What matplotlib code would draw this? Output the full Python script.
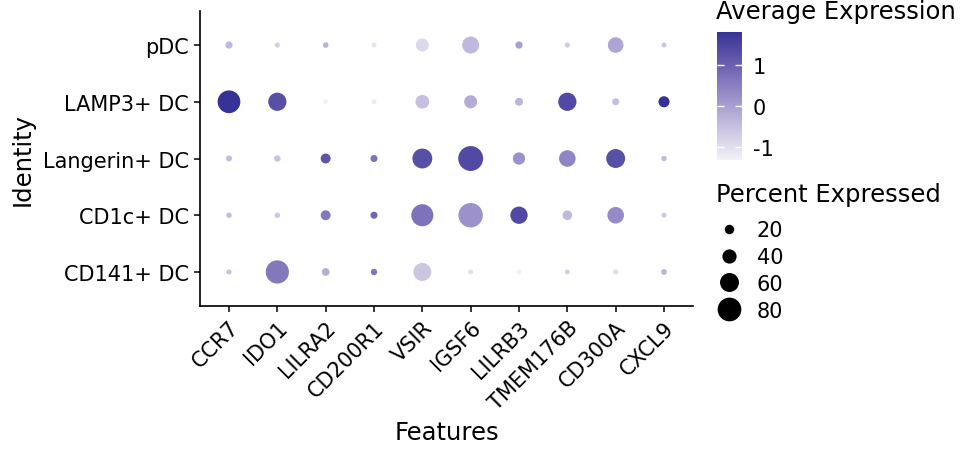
import numpy as np
import matplotlib
matplotlib.use("Agg")
import matplotlib.pyplot as plt
from matplotlib.colors import LinearSegmentedColormap
from matplotlib.lines import Line2D

plt.rcParams["axes.unicode_minus"] = False

features = ["CCR7", "IDO1", "LILRA2", "CD200R1", "VSIR",
            "IGSF6", "LILRB3", "TMEM176B", "CD300A", "CXCL9"]
identities = ["CD141+ DC", "CD1c+ DC", "Langerin+ DC", "LAMP3+ DC", "pDC"]

# percent expressed, one row per identity (same order as identities)
pct_cd141 = [1.5, 78, 12.5, 7, 56, 1.5, 0.5, 0.5, 3, 4]
pct_cd1c = [3, 3, 22, 10, 73, 83, 53, 21, 50, 1]
pct_langerin = [5.5, 8, 22, 10, 64, 85, 32, 50, 60, 3]
pct_lamp3 = [76, 57, 0.5, 0.3, 38, 35, 14, 57, 10, 27]
pct_pdc = [11, 2, 4, 1, 35, 52, 11, 2, 46, 1]

# scaled average expression
avg_cd141 = [-0.5, 0.6, -0.2, 0.65, -0.6, -1.0, -1.3, -0.7, -1.0, -0.3]
avg_cd1c = [-0.45, -0.6, 0.6, 0.9, 0.7, 0.2, 1.4, -0.4, 0.3, -0.6]
avg_langerin = [-0.45, -0.55, 1.2, 0.7, 1.3, 1.4, 0.2, 0.4, 1.3, -0.4]
avg_lamp3 = [1.79, 1.3, -1.32, -1.15, -0.5, -0.2, -0.3, 1.4, -0.5, 1.79]
avg_pdc = [-0.4, -0.75, -0.3, -1.1, -0.9, -0.4, 0.0, -0.7, -0.1, -0.6]

size_breaks = [20, 40, 60, 80]

pct = np.array([pct_cd141, pct_cd1c, pct_langerin, pct_lamp3, pct_pdc])
avg = np.array([avg_cd141, avg_cd1c, avg_langerin, avg_lamp3, avg_pdc])

cmap = LinearSegmentedColormap.from_list(
    "dot", ["#f3f2f7", "#c9c2e1", "#9a8fc9", "#6b5fb0", "#373396"])
vmin, vmax = avg.min(), avg.max()

TICK_FS = 15
TITLE_FS = 17.5


def diam_pt(p):
    # dot diameter in pixels -> points (dpi 100)
    return (4.7 + 0.2375 * np.asarray(p)) * 0.72


fig = plt.figure(figsize=(9.6, 4.56), dpi=100)
ax = fig.add_axes([200 / 960, 1 - 307 / 456, 493 / 960, 295 / 456])

xx, yy = np.meshgrid(np.arange(len(features)), np.arange(len(identities)))
sc = ax.scatter(xx.ravel(), yy.ravel(), s=diam_pt(pct.ravel()) ** 2,
                c=avg.ravel(), cmap=cmap, vmin=vmin, vmax=vmax,
                linewidths=0, zorder=3)

ax.set_xlim(-0.6, len(features) - 0.4)
ax.set_ylim(-0.6, len(identities) - 0.4)
ax.set_xticks(range(len(features)))
ax.set_xticklabels(features, rotation=45, ha="right", va="top",
                   rotation_mode="anchor", fontsize=TICK_FS)
ax.set_yticks(range(len(identities)))
ax.set_yticklabels(identities, fontsize=TICK_FS)
ax.tick_params(length=4, width=1.1, color="black", pad=4)
for side in ["top", "right"]:
    ax.spines[side].set_visible(False)
for side in ["left", "bottom"]:
    ax.spines[side].set_linewidth(1.2)
ax.set_xlabel("Features", fontsize=TITLE_FS, labelpad=5)
ax.set_ylabel("Identity", fontsize=TITLE_FS, labelpad=6)

# colour bar
fig.text(716 / 960, 1 - 12 / 456, "Average Expression", fontsize=TITLE_FS,
         va="center", ha="left")
cax = fig.add_axes([717 / 960, 1 - 161 / 456, 25 / 960, 128 / 456])
cb = fig.colorbar(sc, cax=cax, ticks=[-1, 0, 1])
cb.outline.set_visible(False)
cax.tick_params(length=5, width=1, color="white", direction="in",
                labelsize=TICK_FS, pad=8, left=True, right=True)

# size legend
fig.text(716 / 960, 1 - 195 / 456, "Percent Expressed", fontsize=TITLE_FS,
         va="center", ha="left")
handles = [Line2D([], [], marker="o", ls="", color="black", markeredgewidth=0,
                  markersize=diam_pt(b)) for b in size_breaks]
leg = fig.legend(handles, [str(b) for b in size_breaks],
                 loc="upper left", bbox_to_anchor=(716 / 960, 1 - 221 / 456),
                 frameon=False, fontsize=TICK_FS, borderaxespad=0,
                 labelspacing=0.33, handletextpad=0.75, handlelength=1.2,
                 borderpad=0)

fig.savefig("out.png", dpi=100)
